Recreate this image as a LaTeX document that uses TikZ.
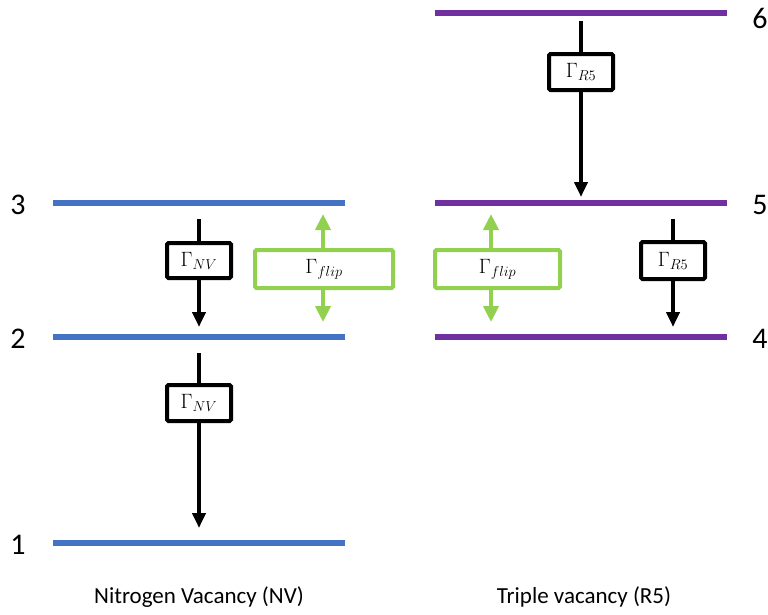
\documentclass[tikz,border=0pt]{standalone}
\usepackage{fontspec}
\setmainfont{Carlito}
\usetikzlibrary{arrows.meta, positioning}
\definecolor{nvblue}{HTML}{4472C4}
\definecolor{rfivepurple}{HTML}{7030A0}
\definecolor{flipgreen}{HTML}{92D050}

\begin{document}
\begin{tikzpicture}[x=1pt, y=-1pt,
  level/.style={line width=6pt},
  levelnum/.style={font=\fontsize{30}{32}\selectfont, inner sep=0pt},
  caption/.style={font=\fontsize{23}{26}\selectfont, inner sep=0pt},
  ratebox/.style={draw=black, line width=4pt, fill=white, rounded corners=1.5pt,
    minimum width=64pt, minimum height=36pt, inner sep=0pt,
    font=\fontsize{22}{24}\selectfont},
  flipbox/.style={ratebox, draw=flipgreen, minimum height=38pt},
  decay/.style={line width=4pt, -{Triangle[length=15pt,width=13pt]}},
  swap/.style={line width=4pt, draw=flipgreen, -{Triangle[length=16pt,width=15pt]}}
]
\useasboundingbox (0,0) rectangle (768,614);

%% Nitrogen Vacancy levels
\draw[level, nvblue] (53,203) -- (345,203);
\draw[level, nvblue] (53,337) -- (345,337);
\draw[level, nvblue] (53,543) -- (345,543);
\node[levelnum] (n3) at (18,205) {3};
\node[levelnum] (n2) at (18,339) {2};
\node[levelnum] (n1) at (18,545) {1};

%% Triple vacancy levels
\draw[level, rfivepurple] (435,13) -- (727,13);
\draw[level, rfivepurple] (435,203) -- (727,203);
\draw[level, rfivepurple] (435,337) -- (727,337);
\node[levelnum] (n6) at (760,18) {6};
\node[levelnum] (n5) at (760,205) {5};
\node[levelnum] (n4) at (760,339) {4};

%% NV decays
\coordinate (nvtop) at (199,219);
\coordinate (nvmid) at (199,327);
\coordinate (nvlow) at (199,353);
\coordinate (nvbot) at (199,528);
\node[ratebox, minimum height=35pt] (gnvA) at (199,260.5) {$\Gamma_{NV}$};
\node[ratebox] (gnvB) at (199,403) {$\Gamma_{NV}$};
\draw[line width=4pt] (nvtop) -- (gnvA.north);
\draw[decay] (gnvA.south) -- (nvmid);
\draw[line width=4pt] (nvlow) -- (gnvB.north);
\draw[decay] (gnvB.south) -- (nvbot);

%% R5 decays
\coordinate (rtop) at (581,21);
\coordinate (rmid) at (581,197);
\coordinate (rrtop) at (673,219);
\coordinate (rrbot) at (673,327);
\node[ratebox] (grA) at (581,72) {$\Gamma_{R5}$};
\node[ratebox, minimum height=37pt] (grB) at (673,260.5) {$\Gamma_{R5}$};
\draw[line width=4pt] (rtop) -- (grA.north);
\draw[decay] (grA.south) -- (rmid);
\draw[line width=4pt] (rrtop) -- (grB.north);
\draw[decay] (grB.south) -- (rrbot);

%% spin flips
\coordinate (fnvup) at (323,214);
\coordinate (fnvdn) at (323,322);
\coordinate (frup) at (491,214);
\coordinate (frdn) at (491,322);
\node[flipbox, minimum width=138pt] (gfNV) at (324,269) {$\Gamma_{flip}$};
\node[flipbox, minimum width=125pt] (gfR) at (497.5,269) {$\Gamma_{flip}$};
\draw[swap] (gfNV.north -| fnvup) -- (fnvup);
\draw[swap] (gfNV.south -| fnvdn) -- (fnvdn);
\draw[swap] (gfR.north -| frup) -- (frup);
\draw[swap] (gfR.south -| frdn) -- (frdn);

%% captions
\node[caption] (cnv) at (199,597) {Nitrogen Vacancy (NV)};
\node[caption] (crf) at (584,597) {Triple vacancy (R5)};
\end{tikzpicture}
\end{document}
